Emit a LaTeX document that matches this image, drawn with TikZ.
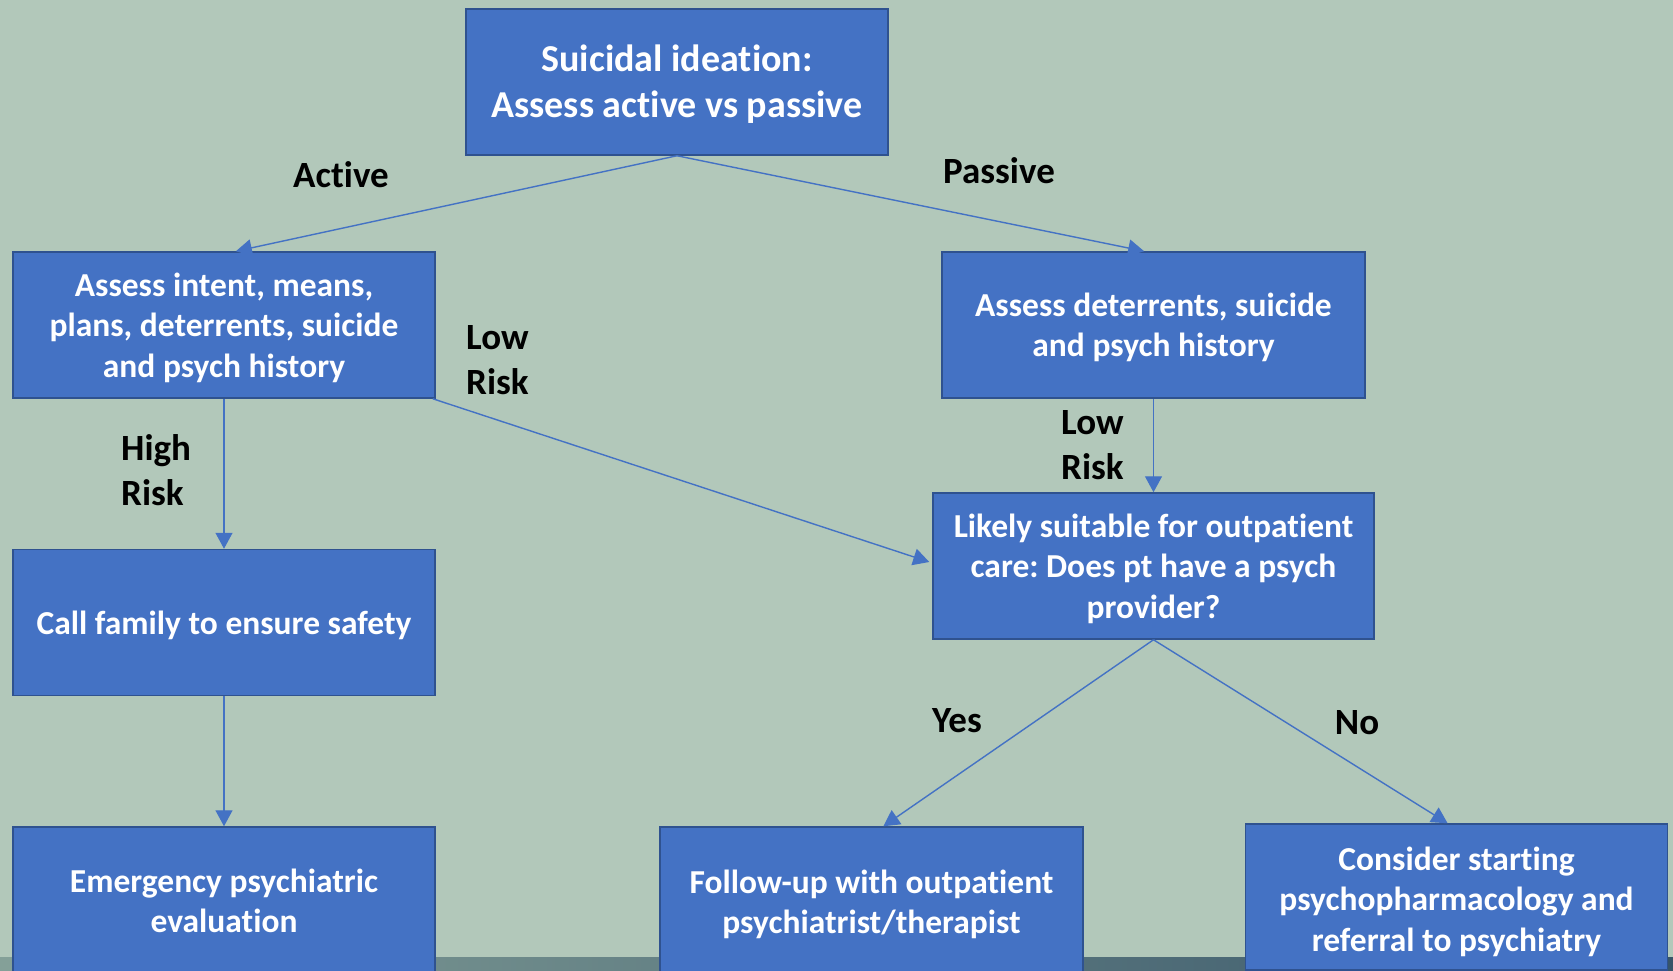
\documentclass[tikz,border=0pt]{standalone}
\usepackage{fontspec}
\setmainfont[Ligatures={NoCommon,NoContextual}]{Carlito}
\usetikzlibrary{arrows.meta,calc}
\frenchspacing
\definecolor{bgsage}{RGB}{178,200,186}
\definecolor{boxblue}{RGB}{68,114,196}
\definecolor{boxedge}{RGB}{47,82,143}
\definecolor{stripL}{RGB}{132,160,152}
\definecolor{stripR}{RGB}{55,85,105}
\newcommand{\bxt}[2][3.5pt]{\raisebox{-#1}[\height][\depth]{\begin{tabular}{@{}c@{}}#2\end{tabular}}}
\tikzset{
  flowbox/.style={draw=boxedge, line width=1.5pt, fill=boxblue, text=white,
    font=\fontsize{33.5}{40.5}\selectfont\bfseries,
    minimum width=422pt, minimum height=146pt, inner sep=0pt},
  lbl/.style={text=black, font=\fontsize{37}{45}\selectfont\bfseries, inner sep=0pt},
  conn/.style={draw=boxblue, line width=1.4pt, -{Triangle[length=16pt,width=17pt]}}
}
\begin{document}
\begin{tikzpicture}[x=1pt,y=-1pt]
\useasboundingbox (0,0) rectangle (1673,971);
\clip (0,0) rectangle (1673,971);
\fill[bgsage] (0,0) rectangle (1673,971);
\shade[left color=stripL, right color=stripR] (0,957) rectangle (1673,971);

\node[flowbox, font=\fontsize{38}{46}\selectfont\bfseries] (top) at (677,82) {\bxt{Suicidal ideation:\\Assess active vs passive}};
\node[flowbox] (act) at (224,325) {\bxt{Assess intent, means,\\plans, deterrents, suicide\\and psych history}};
\node[flowbox, minimum width=423pt] (pas) at (1153.5,325) {\bxt{Assess deterrents, suicide\\and psych history}};
\node[flowbox] (fam) at (224,622.5) {\bxt{Call family to ensure safety}};
\node[flowbox, minimum width=441pt] (lik) at (1153.5,566) {\bxt{Likely suitable for outpatient\\care: Does pt have a psych\\provider?}};
\node[flowbox] (emg) at (224,900) {\bxt[4.5pt]{Emergency psychiatric\\evaluation}};
\node[flowbox, minimum width=423pt] (fol) at (871.5,900) {\bxt[5.5pt]{Follow-up with outpatient\\psychiatrist/therapist}};
\node[flowbox] (con) at (1456.5,897) {\bxt[5.5pt]{Consider starting\\psychopharmacology and\\referral to psychiatry}};

\node[lbl] (lact) at (341,175) {Active};
\node[lbl] (lpas) at (999,171) {Passive};
\node[lbl, align=left, anchor=west] (llow1) at (466,360) {Low\\Risk};
\node[lbl, align=left, anchor=west] (lhigh) at (121,470) {High\\Risk};
\node[lbl, align=left, anchor=west] (llow2) at (1061,445) {Low\\Risk};
\node[lbl] (lyes) at (957,721) {Yes};
\node[lbl] (lno) at (1357,723) {No};

\draw[conn] (top.south) -- ($(act.north west)!0.528!(act.north east)$);
\draw[conn] (top.south) -- ($(pas.north west)!0.478!(pas.north east)$);
\draw[conn] ($(act.south east)+(-3,0)$) -- ($(lik.west)+(-3,-4)$);
\draw[conn] (act.south) -- (fam.north);
\draw[conn] (fam.south) -- (emg.north);
\draw[conn] (pas.south) -- (lik.north);
\draw[conn] (lik.south) -- ($(fol.north west)!0.528!(fol.north east)$);
\draw[conn] (lik.south) -- ($(con.north west)!0.479!(con.north east)$);
\end{tikzpicture}
\end{document}
